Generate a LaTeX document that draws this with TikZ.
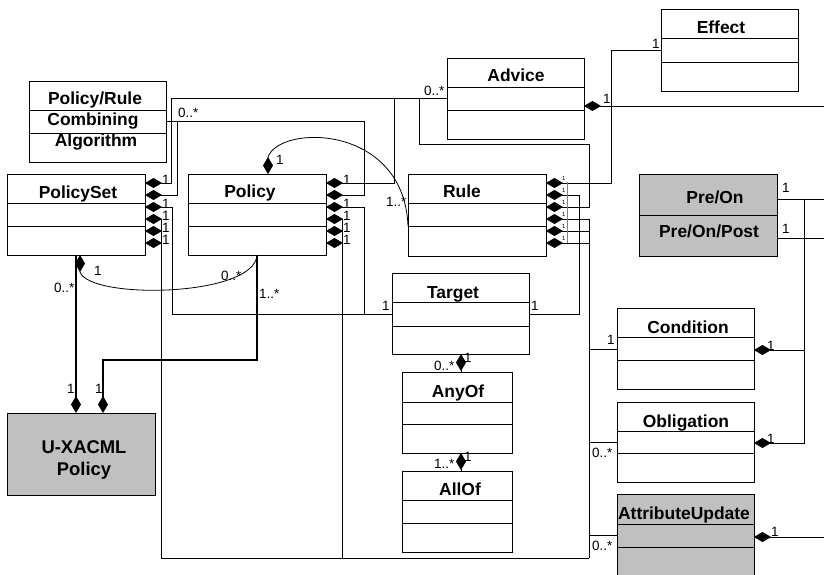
\documentclass[tikz,border=0pt]{standalone}
\usepackage{fontspec}
\setmainfont{Liberation Sans}
\usetikzlibrary{arrows.meta}
\definecolor{umlgrey}{RGB}{192,192,192}
\tikzset{
 box/.style={draw, line width=0.8bp, fill=white, inner sep=0pt, outer sep=0pt},
 gbox/.style={box, fill=umlgrey},
 conn/.style={draw, line width=0.8bp},
 comp/.style={conn, {Diamond[length=17bp,width=10bp]}-},
 tcomp/.style={draw, line width=1.6bp, {Diamond[length=17bp,width=10bp]}-},
 ttl/.style={font=\bfseries\fontsize{17.5}{20}\selectfont, anchor=base, inner sep=0pt},
 lbl/.style={font=\fontsize{13.5}{15}\selectfont, anchor=base west, inner sep=0pt},
 tinylbl/.style={font=\fontsize{6}{7}\selectfont, anchor=base west, inner sep=0pt},
}
\newcommand{\umlbx}[8]{%
  \node[#8, minimum width={(#4-#2)*1bp}, minimum height={(#5-#3)*1bp}] (#1) at ({(#2+#4)/2},{(#3+#5)/2}) {};
  \draw[line width=0.8bp] (#1.west |- 0,#6) -- (#1.east |- 0,#6);
  \draw[line width=0.8bp] (#1.west |- 0,#7) -- (#1.east |- 0,#7);
}
\begin{document}
\begin{tikzpicture}[x=1bp,y=-1bp]
\useasboundingbox (0,0) rectangle (824,575);
% ---------- boxes ----------
\umlbx{prca}{29}{81}{166}{162}{110}{133}{box}
\umlbx{ps}{7}{174}{145}{255}{203}{226}{box}
\umlbx{pol}{188}{174}{326}{255}{203}{226}{box}
\umlbx{rule}{408}{174}{546}{256}{203}{226}{box}
\umlbx{adv}{447}{58}{584}{139}{87}{110}{box}
\umlbx{eff}{661}{9}{798}{91}{38}{62}{box}
\umlbx{preon}{639}{174}{777}{256}{215}{215}{gbox}
\umlbx{tgt}{392}{273}{529}{354}{302}{326}{box}
\umlbx{any}{402}{372}{512}{453}{402}{424}{box}
\umlbx{all}{402}{471}{512}{552}{500}{523}{box}
\umlbx{cond}{617}{308}{754}{389}{337}{360}{box}
\umlbx{obl}{617}{402}{754}{482}{431}{453}{box}
\umlbx{au}{617}{494}{754}{580}{524}{547}{gbox}
\node[gbox, minimum width=148bp, minimum height=82bp] (ux) at (81,454) {};
% ---------- titles ----------
\node[ttl] (t1) at (95,105) {Policy/Rule};
\node[ttl] (t2) at (93,126) {Combining};
\node[ttl] (t3) at (96,147) {Algorithm};
\node[ttl] (tps) at (78,199) {PolicySet};
\node[ttl] (tpol) at (250,198) {Policy};
\node[ttl] (trule) at (462,198) {Rule};
\node[ttl] (tadv) at (516,82) {Advice};
\node[ttl] (teff) at (721,34) {Effect};
\node[ttl] (tpre) at (715,204) {Pre/On};
\node[ttl] (tprep) at (709,238) {Pre/On/Post};
\node[ttl] (ttgt) at (453,298) {Target};
\node[ttl] (tany) at (458,397) {AnyOf};
\node[ttl] (tall) at (460,495) {AllOf};
\node[ttl] (tcond) at (688,333) {Condition};
\node[ttl] (tobl) at (686,427) {Obligation};
\node[ttl] (tau) at (684,519) {AttributeUpdate};
\node[ttl, font=\bfseries\fontsize{18.5}{21}\selectfont] (tux1) at (84,453) {U-XACML};
\node[ttl, font=\bfseries\fontsize{18.5}{21}\selectfont] (tux2) at (84,475) {Policy};
% ---------- coordinates ----------
\foreach \i/\yy in {1/183,2/195,3/207,4/219,5/231,6/243}{
  \coordinate (ps\i) at (145,\yy);
  \coordinate (po\i) at (326,\yy);
  \coordinate (ru\i) at (546,\yy);
}
\coordinate (edgeA) at (824,106);
\coordinate (edgeB) at (824,199);
\coordinate (edgeC) at (824,238);
\coordinate (edgeD) at (824,537);
\coordinate (poltop) at (268,174);
\coordinate (psbot) at (80,255);
% ---------- connectors ----------
\draw[comp] (ps1) -| (171,98) -- (adv.west |- 0,98);
\draw[comp] (po1) -| (394,98);
\draw[comp] (ru3) -| (589,144) -| (419,98);
\draw[comp] (ps2) -| (177,121) -- (prca.east |- 0,121);
\draw[comp] (po2) -| (364,121) -- (177,121);
\draw[comp] (ps3) -| (172,314) -- (tgt.west |- 0,314);
\draw[comp] (po3) -| (364,314);
\draw[comp] (ps4) -| (161,558) -- (589,558);
\draw[comp] (ps5) -- ++(16,0);
\draw[comp] (ps6) -- ++(16,0);
\draw[comp] (po4) -| (342,558);
\draw[comp] (po5) -- ++(16,0);
\draw[comp] (po6) -- ++(16,0);
\draw[comp] (ru1) -| (611,50) -- (eff.west |- 0,50);
\draw[comp] (ru2) -| (579,314) -- (tgt.east |- 0,314);
\draw[comp] (ru4) -| (589,558);
\draw[comp] (ru5) -- ++(43,0);
\draw[comp] (ru6) -- ++(43,0);
\draw[conn] (589,349) -- (cond.west |- 0,349);
\draw[conn] (589,442) -- (obl.west |- 0,442);
\draw[conn] (589,535) -- (au.west |- 0,535);
\draw[line width=0.6bp, gray] (567,182) -- (567,243);
\draw[comp] (adv.east |- 0,106) -- (edgeA);
\draw[conn] (preon.east |- 0,199) -- (edgeB);
\draw[conn] (preon.east |- 0,238) -- (edgeC);
\draw[comp] (cond.east |- 0,350) -| (804,199);
\draw[comp] (obl.east |- 0,443) -| (804,350);
\draw[comp] (au.east |- 0,537) -- (edgeD);
\draw[comp] (tgt.south -| 461,0) -- (any.north -| 461,0);
\draw[comp] (any.south -| 461,0) -- (all.north -| 461,0);
\draw[comp] (poltop) -- ++(0,-17) .. controls (280,124) and (404,124) .. (rule.west |- 0,226);
\draw[comp] (psbot) -- ++(0,17) .. controls (90,300) and (255,297) .. (pol.south);
\draw[tcomp] (ux.north -| 76,0) -- (ps.south -| 76,0);
\draw[tcomp] (ux.north -| 103,0) |- (257,360) -- (pol.south);
% ---------- labels ----------
\node[lbl] (l1) at (424,96) {0..*};
\node[lbl] (l2) at (603,104) {1};
\node[lbl] (l3) at (652,49) {1};
\node[lbl] (l4) at (178,118) {0..*};
\foreach \yy in {185,209,221,233,245}{
  \node[lbl] at (162,\yy) {1};
  \node[lbl] at (343,\yy) {1};
}
\foreach \yy in {181,193,205,217,229,241}{
  \node[tinylbl] at (562,\yy) {1};
}
\node[lbl] (l5) at (382,310) {1};
\node[lbl] (l6) at (531,310) {1};
\node[lbl] (l7) at (434,370) {0..*};
\node[lbl] (l8) at (464,362) {1};
\node[lbl] (l9) at (434,468) {1..*};
\node[lbl] (l10) at (464,461) {1};
\node[lbl] (l11) at (607,344) {1};
\node[lbl] (l12) at (592,457) {0..*};
\node[lbl] (l13) at (592,550) {0..*};
\node[lbl] (l14) at (767,350) {1};
\node[lbl] (l15) at (767,443) {1};
\node[lbl] (l16) at (771,536) {1};
\node[lbl] (l17) at (782,193) {1};
\node[lbl] (l18) at (782,234) {1};
\node[lbl] (l19) at (276,165) {1};
\node[lbl] (l20) at (386,207) {1..*};
\node[lbl] (l21) at (94,275) {1};
\node[lbl] (l22) at (221,280) {0..*};
\node[lbl] (l23) at (54,292) {0..*};
\node[lbl] (l24) at (259,298) {1..*};
\node[lbl] (l25) at (67,393) {1};
\node[lbl] (l26) at (95,393) {1};
\end{tikzpicture}
\end{document}
